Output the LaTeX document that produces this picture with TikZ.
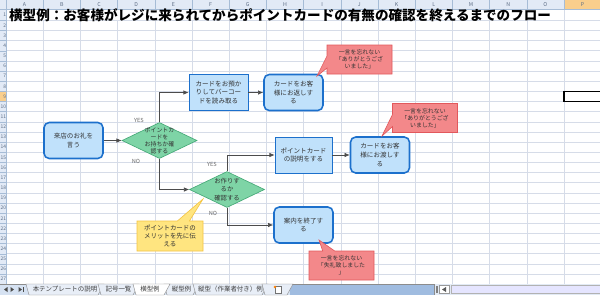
\documentclass[tikz,border=0pt]{standalone}
\usepackage{fontspec}
\setmainfont{Noto Sans CJK JP}
\usetikzlibrary{arrows.meta,shapes.geometric,shapes.callouts}
\definecolor{CellGrid}{RGB}{214,220,232}
\definecolor{HeadFill}{RGB}{226,234,246}
\definecolor{HeadLine}{RGB}{166,188,214}
\definecolor{HeadText}{RGB}{92,108,132}
\definecolor{PickFill}{RGB}{249,206,140}
\definecolor{BoxFill}{RGB}{192,225,251}
\definecolor{BoxLine}{RGB}{28,112,204}
\definecolor{DiaFill}{RGB}{126,212,166}
\definecolor{DiaLine}{RGB}{68,168,118}
\definecolor{MemoFill}{RGB}{243,136,138}
\definecolor{MemoLine}{RGB}{226,88,92}
\definecolor{HintFill}{RGB}{255,229,128}
\definecolor{HintLine}{RGB}{244,196,66}
\definecolor{TabBase}{RGB}{214,226,242}
\definecolor{TabFill}{RGB}{232,238,247}
\definecolor{TabBlue}{RGB}{160,188,224}
\definecolor{ScrollFill}{RGB}{226,234,245}
\newcommand\flowfont{\fontsize{9.3}{12.4}\selectfont}
\newcommand\diafont{\fontsize{8.4}{10}\selectfont}
\newcommand\memofont{\fontsize{8.4}{10.2}\selectfont}
\newcommand\titlefont{\fontsize{19.3}{22}\selectfont\bfseries}
\tikzset{
  cellgrid/.style={CellGrid,line width=0.8pt},
  headline/.style={HeadLine,line width=0.6pt},
  colhead/.style={HeadText,font=\fontsize{7.5}{8}\selectfont,inner sep=0pt},
  rowhead/.style={HeadText,font=\fontsize{7}{8}\selectfont,inner sep=0pt,anchor=east},
  task/.style={draw=BoxLine,fill=BoxFill,line width=1pt,minimum width=29.5mm,
    minimum height=18mm,inner sep=1pt,align=center,font=\flowfont,text=black!80},
  proc/.style={task,rounded corners=2.6mm,line width=2.2pt},
  decision/.style={diamond,draw=DiaLine,fill=DiaFill,line width=0.9pt,
    minimum width=37.5mm,minimum height=18mm,inner sep=0pt},
  diatext/.style={align=center,font=\diafont,text=black!80,inner sep=0pt},
  memo/.style={rectangle callout,draw=MemoLine,fill=MemoFill,line width=0.9pt,
    minimum width=32.5mm,minimum height=14.5mm,inner sep=1pt,callout pointer width=6mm,
    align=center,font=\memofont,text=black!80},
  hint/.style={memo,draw=HintLine,fill=HintFill,minimum width=33mm,minimum height=15mm,
    font=\fontsize{9.2}{11.7}\selectfont},
  flag/.style={font=\fontsize{8}{9}\selectfont,text=black!60,inner sep=0pt},
  arrow/.style={-{Latex[length=2.6mm,width=2.2mm]},line width=0.9pt,black!70},
  tabtext/.style={font=\fontsize{9.2}{10}\selectfont,text=black!75,inner sep=0pt},
  tabedge/.style={draw=black!45,line width=0.6pt}
}
\begin{document}
\begin{tikzpicture}[x=0.5mm,y=-0.5mm]
\useasboundingbox (0,0) rectangle (600,295);
\fill[white] (0,0) rectangle (600,295);
\foreach \c in {0,...,16} \draw[cellgrid] ({6+37.2*\c},9) -- ({6+37.2*\c},284);
\foreach \r in {0,...,26} \draw[cellgrid] (6,{20.3+10.15*\r}) -- (600,{20.3+10.15*\r});
\fill[white] (6.8,9.6) rectangle (563.2,19.8);
\fill[HeadFill] (0,0) rectangle (600,9);
\fill[HeadFill] (0,9) rectangle (6,284);
\fill[PickFill] (564,0) rectangle (601.2,9);
\fill[PickFill] (0,91.35) rectangle (6,101.5);
\foreach \c in {0,...,16} \draw[headline] ({6+37.2*\c},0) -- ({6+37.2*\c},9);
\draw[headline] (0,9) -- (600,9) (6,0) -- (6,284);
\foreach \r in {0,...,26} \draw[headline] (0,{20.3+10.15*\r}) -- (6,{20.3+10.15*\r});
\foreach \l [count=\i from 0] in {A,...,P} \node[colhead] (col\l) at ({24.6+37.2*\i},4.6) {\l};
\begin{scope}
  \clip (0,9) rectangle (6,284);
  \node[rowhead] (row1) at (6.3,14.6) {1};
  \foreach \r in {2,...,27} \node[rowhead] (row\r) at (6.3,{25.4+10.15*(\r-2)}) {\r};
\end{scope}
\draw[line width=2pt] (564,91.35) rectangle (603,101.5);
\node[anchor=west,font=\titlefont,inner sep=0pt] (title) at (9,14.8)
  {横型例：お客様がレジに来られてからポイントカードの有無の確認を終えるまでのフロー};

\node[proc] (b1) at (73.5,140.5) {来店のお礼を\\言う};
\node[decision] (d1) at (159.5,140.5) {};
\node[diatext] (d1txt) at (d1) {ポイントカ\\ードを\\お持ちか確\\認する};
\node[task] (b3) at (218.5,92.5) {カードをお預か\\りしてバーコー\\ドを読み取る};
\node[proc] (b4) at (293.5,92.5) {カードをお客\\様にお返しす\\る};
\node[decision] (d2) at (227,189.5) {};
\node[diatext,font=\fontsize{9}{11.8}\selectfont] (d2txt) at (d2) {お作りす\\るか\\確認する};
\node[task,minimum width=28.5mm] (b7) at (303.5,155) {ポイントカード\\の説明をする};
\node[proc] (b8) at (380,155) {カードをお客\\様にお渡しす\\る};
\node[proc] (b10) at (303.5,225) {案内を終了す\\る};

\draw[arrow] (b1) -- (d1);
\draw[arrow] (d1.north) |- (b3);
\draw[arrow] (b3) -- (b4);
\draw[arrow] (d1.south) |- (d2);
\draw[arrow] (d2.north) |- (b7);
\draw[arrow] (b7) -- (b8);
\draw[arrow] (d2.south) |- (b10);
\node[flag] (yes1) at (139,120) {YES};
\node[flag] (no1) at (136,161) {NO};
\node[flag] (yes2) at (212,164) {YES};
\node[flag] (no2) at (213,213) {NO};

\coordinate (t1) at (317,76);
\coordinate (t2) at (382,136);
\coordinate (t3) at (319,240);
\coordinate (t4) at (203,199);
\node[memo,callout absolute pointer={(t1)}] (m1) at (359.5,59.5) {一言を忘れない\\「ありがとうござ\\いました」};
\node[memo,callout absolute pointer={(t2)}] (m2) at (425,118) {一言を忘れない\\「ありがとうござ\\いました」};
\node[memo,callout absolute pointer={(t3)}] (m3) at (341.5,265.5) {一言を忘れない\\「失礼致しました\\」};
\node[hint,callout absolute pointer={(t4)}] (h1) at (170,236) {ポイントカードの\\メリットを先に伝\\える};

\fill[TabBase] (0,284) rectangle (600,295);
\fill[TabBlue] (290,284) rectangle (434,295);
\draw[black!45,line width=0.6pt] (0,284) -- (600,284);
\fill[black!70] (4,289.5) -- (7.5,287) -- (7.5,292) -- cycle;
\fill[black!70] (14,289.5) -- (10.5,287) -- (10.5,292) -- cycle;
\fill[black!70] (22,289.5) -- (18.5,287) -- (18.5,292) -- cycle;
\fill[black!70] (22.5,287) rectangle (23.5,292);
\foreach \a/\b/\s [count=\i] in {29/101/本テンプレートの説明,101/136/記号一覧,167/196/縦型例,196/265/縦型（作業者付き）例} {
  \draw[tabedge,fill=TabFill] (\a,295) -- (\a-3,284) -- (\b+3,284) -- (\b-3,295) -- cycle;
  \node[tabtext] (tab\i) at ({(\a+\b)/2},289.5) {\s};
}
\draw[tabedge,fill=white] (136,295) -- (133,284) -- (170,284) -- (164,295) -- cycle;
\node[tabtext] (tabnow) at (150,289.5) {横型例};
\draw[tabedge,fill=TabFill] (265,295) -- (262,284) -- (293,284) -- (287,295) -- cycle;
\draw[black!55,fill=white,line width=0.5pt] (275,286.5) rectangle (281,293);
\fill[orange] (275,287) circle (1.3);
\fill[ScrollFill] (434,284) rectangle (600,295);
\draw[black!45,line width=0.5pt] (434,284) -- (434,295);
\fill[black!50] (435.5,286) rectangle (437.5,293);
\draw[black!40,fill=white,line width=0.5pt] (439,285.5) rectangle (449,293.5);
\fill[black!65] (442,289.5) -- (446,287) -- (446,292) -- cycle;
\draw[black!30,fill=white!90!blue,line width=0.5pt] (451,285.5) rectangle (600,293.5);
\end{tikzpicture}
\end{document}
